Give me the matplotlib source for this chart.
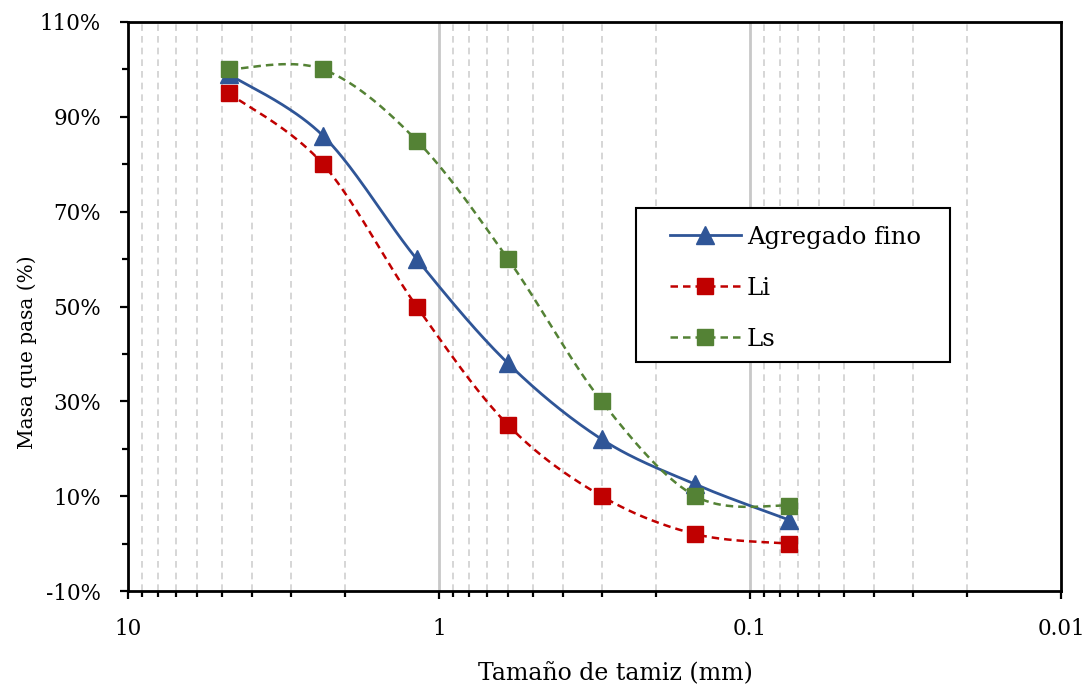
import numpy as np
import matplotlib
matplotlib.use("Agg")
import matplotlib.pyplot as plt
from matplotlib.ticker import FixedLocator, FuncFormatter, NullFormatter
from matplotlib.lines import Line2D
from matplotlib.patches import Rectangle

# Datos granulométricos
tamiz_mm = [4.75, 2.36, 1.18, 0.6, 0.3, 0.15, 0.075]
agregado_fino = [99, 86, 60, 38, 22, 12.5, 5]
li = [95, 80, 50, 25, 10, 2, 0]
ls = [100, 100, 85, 60, 30, 10, 8]

AZUL = "#2F5597"
ROJO = "#C00000"
VERDE = "#548235"

plt.rcParams['font.family'] = ['DejaVu Serif']


# Curva suavizada tipo Excel (Bezier con tangentes Catmull-Rom) en espacio log-x
def suavizar(x, y, n=40):
    px = np.log10(np.asarray(x, float))
    py = np.asarray(y, float)
    pts = np.column_stack([px, py])
    out = []
    for i in range(len(pts) - 1):
        p0 = pts[i - 1] if i > 0 else pts[i]
        p1 = pts[i]
        p2 = pts[i + 1]
        p3 = pts[i + 2] if i + 2 < len(pts) else pts[i + 1]
        c1 = p1 + (p2 - p0) / 6
        c2 = p2 - (p3 - p1) / 6
        t = np.linspace(0, 1, n)[:, None]
        seg = ((1 - t) ** 3) * p1 + 3 * ((1 - t) ** 2) * t * c1 + 3 * (1 - t) * t ** 2 * c2 + t ** 3 * p2
        out.append(seg if i == 0 else seg[1:])
    seg = np.vstack(out)
    return 10 ** seg[:, 0], seg[:, 1]


fig = plt.figure(figsize=(10.85, 6.87), dpi=100)
ax = fig.add_axes([0.118, 0.1397, 0.86, 0.8283])

# rejilla vertical
for dec in [10, 1, 0.1]:
    for m in range(2, 10):
        ax.axvline(dec * m / 10, color="#D0D0D0", lw=1.2, ls=(0, (4, 3)), zorder=0)
for v in [1, 0.1]:
    ax.axvline(v, color="#C8C8C8", lw=2, zorder=0)

xs, ys = suavizar(tamiz_mm, li)
ax.plot(xs, ys, color=ROJO, lw=1.8, ls=(0, (3, 2)), zorder=2)
ax.plot(tamiz_mm, li, ls="none", marker="s", ms=11.5, color=ROJO, zorder=3)

xs, ys = suavizar(tamiz_mm, agregado_fino)
ax.plot(xs, ys, color=AZUL, lw=2, zorder=2)
ax.plot(tamiz_mm, agregado_fino, ls="none", marker="^", ms=12.5, color=AZUL, zorder=3)

xs, ys = suavizar(tamiz_mm, ls)
ax.plot(xs, ys, color=VERDE, lw=1.8, ls=(0, (3, 2)), zorder=2)
ax.plot(tamiz_mm, ls, ls="none", marker="s", ms=11.5, color=VERDE, zorder=4)

ax.set_xscale("log")
ax.set_xlim(10, 0.01)
ax.set_ylim(-10, 110)
ax.xaxis.set_major_locator(FixedLocator([10, 1, 0.1, 0.01]))
ax.xaxis.set_major_formatter(FuncFormatter(lambda v, p: f"{v:g}"))
ax.xaxis.set_minor_locator(FixedLocator([d * m / 10 for d in [10, 1, 0.1] for m in range(2, 10)]))
ax.xaxis.set_minor_formatter(NullFormatter())
ax.yaxis.set_major_locator(FixedLocator(list(range(-10, 111, 20))))
ax.yaxis.set_minor_locator(FixedLocator(list(range(0, 101, 20))))
ax.yaxis.set_major_formatter(FuncFormatter(lambda v, p: f"{int(round(v))}%"))

ax.tick_params(which="major", length=5.5, width=1.6, labelsize=15.5, color="black", pad=14)
ax.tick_params(which="minor", length=4.5, width=1.6, color="black")
for s in ax.spines.values():
    s.set_linewidth(2)
    s.set_color("black")

ax.set_xlabel("Tamaño de tamiz (mm)", fontsize=17)
ax.xaxis.set_label_coords(0.522, -0.125)
ax.set_ylabel("Masa que pasa (%)", fontsize=14.5)
ax.yaxis.set_label_coords(-0.0975, 0.42)

# recuadro de la leyenda
ax.add_patch(Rectangle((0.5445, 0.4025), 0.3365, 0.2706, transform=ax.transAxes,
                       facecolor="white", edgecolor="black", lw=1.5, zorder=9))
handles = [
    Line2D([], [], color=AZUL, lw=2, marker="^", ms=12.5),
    Line2D([], [], color=ROJO, lw=1.8, ls=(0, (3, 2)), marker="s", ms=11.5),
    Line2D([], [], color=VERDE, lw=1.8, ls=(0, (3, 2)), marker="s", ms=11.5),
]
leg = ax.legend(handles, ["Agregado fino", "Li", "Ls"], loc="upper left",
                bbox_to_anchor=(0.581, 0.642), fontsize=17.5, frameon=False,
                handlelength=2.9, labelspacing=1.15, borderpad=0,
                handletextpad=0.25, borderaxespad=0)
leg.set_zorder(10)

fig.savefig("out.png", dpi=100)
